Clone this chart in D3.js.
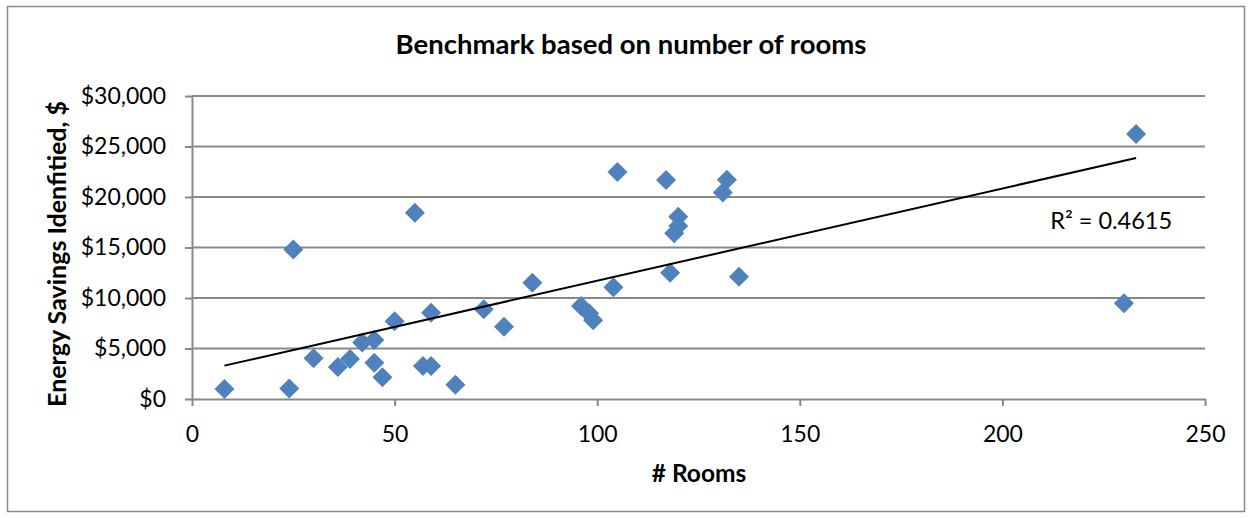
<!DOCTYPE html>
<html>
<head>
<meta charset="utf-8">
<script src="https://cdn.jsdelivr.net/npm/d3@7"></script>
<style>
  body { margin: 0; background: #fff; }
  svg { display: block; font-family: Lato, "Open Sans", sans-serif; }
</style>
</head>
<body>
<div id="chart"></div>
<script>
// data
var rooms = [8, 24, 25, 30, 36, 39, 42, 45, 45, 47, 50, 55, 57, 59, 59, 65, 72, 77, 84,
             96, 98, 99, 104, 105, 117, 118, 119, 120, 120, 131, 132, 135, 230, 233];
var savings = [1000, 1050, 14800, 4030, 3180, 3950, 5600, 5840, 3590, 2150, 7700, 18450,
               3270, 3270, 8550, 1400, 8880, 7160, 11510, 9200, 8500, 7800, 11060, 22480,
               21680, 12510, 16400, 17130, 18050, 20450, 21700, 12110, 9470, 26240];
var xTicks = [0, 50, 100, 150, 200, 250];
var yTicks = [0, 5000, 10000, 15000, 20000, 25000, 30000];
var title = "Benchmark based on number of rooms";
var xTitle = "# Rooms";
var yTitle = "Energy Savings Idenfitied, $";
var r2Label = "R\u00b2 = 0.4615";

var W = 1252, H = 518;
var margin = {top: 96, right: 47, bottom: 119, left: 192};
var width = W - margin.left - margin.right;
var height = H - margin.top - margin.bottom;

var svg = d3.select("#chart").append("svg")
    .attr("width", W)
    .attr("height", H);

// outer chart border
svg.append("rect")
    .attr("x", 7.5).attr("y", 6.5)
    .attr("width", 1237).attr("height", 505)
    .attr("fill", "#fff")
    .attr("stroke", "#898989")
    .attr("stroke-width", 1.5);

var x = d3.scaleLinear().domain([0, 250]).range([0, width]);
var y = d3.scaleLinear().domain([0, 30000]).range([height, 0]);

var g = svg.append("g")
    .attr("transform", "translate(" + margin.left + "," + margin.top + ")");

// gridlines
g.selectAll("line.grid")
    .data(yTicks.slice(1))
    .enter().append("line")
    .attr("class", "grid")
    .attr("x1", 0).attr("x2", width)
    .attr("y1", function(d) { return y(d); })
    .attr("y2", function(d) { return y(d); })
    .attr("stroke", "#888")
    .attr("stroke-width", 2);

var fmt = function(d) { return "$" + d3.format(",")(d); };

var yAxis = g.append("g")
    .call(d3.axisLeft(y).tickValues(yTicks).tickFormat(fmt).tickSizeInner(7).tickSizeOuter(0).tickPadding(19));
var xAxis = g.append("g")
    .attr("transform", "translate(0," + height + ")")
    .call(d3.axisBottom(x).tickValues(xTicks).tickSizeInner(7).tickSizeOuter(0).tickPadding(20));

[xAxis, yAxis].forEach(function(a) {
    a.select(".domain").attr("stroke", "#888").attr("stroke-width", 2);
    a.selectAll(".tick line").attr("stroke", "#888").attr("stroke-width", 2);
    a.selectAll("text").attr("font-size", 23).attr("fill", "#000")
        .attr("font-family", "Lato, sans-serif");
});

// linear trendline from least squares
var pts = rooms.map(function(r, i) { return {x: r, y: savings[i]}; });
var mx = d3.mean(pts, function(d) { return d.x; });
var my = d3.mean(pts, function(d) { return d.y; });
var sxy = d3.sum(pts, function(d) { return (d.x - mx) * (d.y - my); });
var sxx = d3.sum(pts, function(d) { return (d.x - mx) * (d.x - mx); });
var slope = sxy / sxx;
var icpt = my - slope * mx;
var xr = d3.extent(rooms);

g.selectAll(".pt")
    .data(pts)
    .enter().append("path")
    .attr("class", "pt")
    .attr("d", d3.symbol().type(d3.symbolSquare).size(200))
    .attr("transform", function(d) {
        return "translate(" + x(d.x) + "," + y(d.y) + ") rotate(45)";
    })
    .attr("fill", "#4f81bd");

g.append("line")
    .attr("x1", x(xr[0])).attr("y1", y(icpt + slope * xr[0]))
    .attr("x2", x(xr[1])).attr("y2", y(icpt + slope * xr[1]))
    .attr("stroke", "#000")
    .attr("stroke-width", 2);

g.append("text")
    .attr("x", x(211.8)).attr("y", y(16830))
    .attr("font-size", 23.5)
    .text(r2Label);

svg.append("text")
    .attr("x", 631).attr("y", 54)
    .attr("text-anchor", "middle")
    .attr("font-size", 27.5).attr("font-weight", "bold")
    .text(title);

svg.append("text")
    .attr("x", 699).attr("y", 482)
    .attr("text-anchor", "middle")
    .attr("font-size", 24.5).attr("font-weight", "bold")
    .text(xTitle);

svg.append("text")
    .attr("transform", "translate(66,254) rotate(-90)")
    .attr("text-anchor", "middle")
    .attr("font-size", 25).attr("font-weight", "bold")
    .text(yTitle);
</script>
</body>
</html>
